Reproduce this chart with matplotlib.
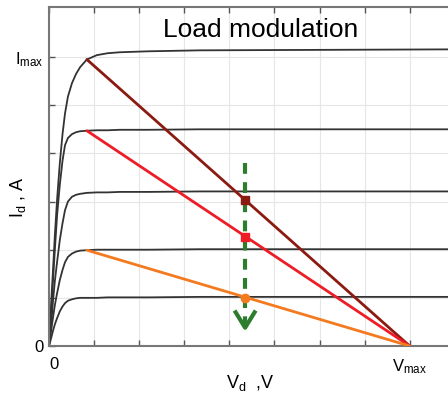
import numpy as np
import matplotlib.pyplot as plt

plt.rcParams['font.family'] = ['Liberation Sans', 'DejaVu Sans']
plt.rcParams['mathtext.default'] = 'regular'

# output characteristics (V in grid units, I in grid units)
v_pts = [0, 0.03, 0.06, 0.09, 0.13, 0.18, 0.24, 0.30, 0.355, 0.42, 0.51, 0.6,
         0.69, 0.84, 1.06, 1.3, 1.57, 2.2, 3.35, 8.85]
curve_1 = [0, 0.55, 1.1, 1.6, 2.3, 3.05, 3.80, 4.4, 4.83, 5.18, 5.46, 5.65,
           5.79, 5.95, 6.04, 6.08, 6.10, 6.12, 6.14, 6.16]
curve_2 = [0, 0.45, 0.9, 1.37, 2.0, 2.72, 3.35, 3.85, 4.17, 4.32, 4.40, 4.44,
           4.46, 4.47, 4.48, 4.48, 4.49, 4.49, 4.50, 4.50]
curve_3 = [0, 0.3, 0.6, 0.95, 1.35, 1.75, 2.2, 2.55, 2.82, 3.0, 3.1, 3.14,
           3.16, 3.18, 3.19, 3.19, 3.20, 3.20, 3.21, 3.21]
curve_4 = [0, 0.2, 0.4, 0.6, 0.85, 1.1, 1.37, 1.58, 1.74, 1.85, 1.92, 1.96,
           1.98, 1.99, 2.00, 2.00, 2.00, 2.00, 2.01, 2.01]
curve_5 = [0, 0.1, 0.21, 0.32, 0.45, 0.58, 0.72, 0.82, 0.89, 0.94, 0.97, 0.99,
           1.00, 1.00, 1.00, 1.01, 1.01, 1.01, 1.02, 1.02]
curves = [curve_1, curve_2, curve_3, curve_4, curve_5]

# load lines: start at knee, end at Vmax
v_knee = 0.84
i_start = [5.95, 4.47, 1.99]
v_max = 8
load_colors = ['#8b1a10', '#ee1c25', '#f47a20']
load_markers = ['s', 's', 'o']

# operating points
v_op = 4.35
i_op = [3.04, 2.27, 1.00]

fig = plt.figure(figsize=(4.48, 3.99), dpi=100)
ax = fig.add_axes([49/448, 53/399, 1 - 49/448, 339/399])

for c in curves:
    ax.plot(v_pts, c, color='#333333', lw=1.3, zorder=2)

for i0, col, mk, iop in zip(i_start, load_colors, load_markers, i_op):
    ax.plot([v_knee, v_max], [i0, 0], color=col, lw=2, zorder=3, solid_capstyle='round')
    ax.plot(v_op, iop, marker=mk, ms=6, color=col, zorder=6)

# green arrow
green = '#2e7d2e'
ax.plot([v_op, v_op], [3.80, 0.45], color=green, lw=3, ls=(0, (2.6, 2)), zorder=5)
ax.plot([v_op - 0.21, v_op, v_op + 0.21], [0.70, 0.38, 0.70], color=green, lw=3, zorder=5)

ax.set_xlim(0, 8.85)
ax.set_ylim(0, 7.04)
ax.set_xticks(range(0, 9))
ax.set_xticklabels(['0', '', '', '', '', '', '', '', '$V_{max}$'])
ax.set_yticks(range(0, 7))
ax.set_yticklabels(['0', '', '', '', '', '', '$I_{max}$'])
ax.get_xticklabels()[0].set_ha('left')
ax.grid(True, color='#e6e6e6', lw=0.8, zorder=0)
ax.set_axisbelow(True)

ax.tick_params(direction='in', length=4, width=1, color='#555555',
               top=True, labelsize=12)
ax.tick_params(axis='x', pad=8)
ax.tick_params(axis='y', pad=4)
for s in ['left', 'top', 'bottom']:
    ax.spines[s].set_color('#777777')
    ax.spines[s].set_linewidth(1.5)
ax.spines['right'].set_visible(False)

ax.text(6.87, 6.41, 'Load modulation', fontsize=19, ha='right', va='baseline')

fig.text(250/448, 1 - 383/399, '$V_d$  ,V', fontsize=13, ha='center', va='center')
fig.text(18/448, 1 - 197/399, '$I_d$ , A', fontsize=13, ha='center', va='center',
         rotation=90)

fig.savefig('out.png', dpi=100)
